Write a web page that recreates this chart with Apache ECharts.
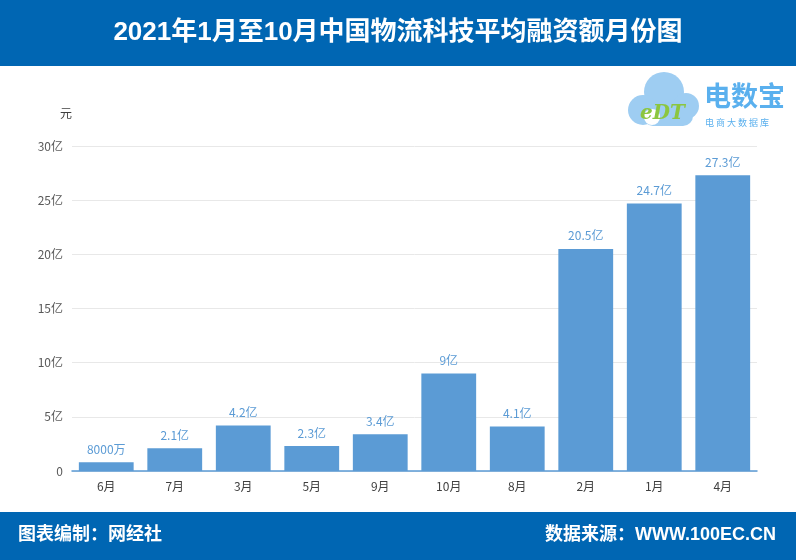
<!DOCTYPE html>
<html><head><meta charset="utf-8">
<script src="https://cdn.jsdelivr.net/npm/echarts@6/dist/echarts.min.js"></script>
<style>html,body{margin:0;padding:0;background:#fff}#c{width:796px;height:560px}</style>
</head><body><div id="c"></div>
<script>
const categories = ['6月','7月','3月','5月','9月','10月','8月','2月','1月','4月'];
const values = [0.8, 2.1, 4.2, 2.3, 3.4, 9, 4.1, 20.5, 24.7, 27.3];
const valueLabels = ['8000万','2.1亿','4.2亿','2.3亿','3.4亿','9亿','4.1亿','20.5亿','24.7亿','27.3亿'];
const yTicks = [0, 5, 10, 15, 20, 25, 30];
const yTickLabels = ['0','5亿','10亿','15亿','20亿','25亿','30亿'];
const titleText = '2021年1月至10月中国物流科技平均融资额月份图';
const footerLeft = '图表编制：网经社';
const footerRight = '数据来源：WWW.100EC.CN';

const chart = echarts.init(document.getElementById('c'));
const font = '"Microsoft YaHei","Noto Sans CJK SC",sans-serif';
const boldFont = '"Liberation Sans","Noto Sans CJK SC",sans-serif';
chart.setOption({
  animation: false,
  backgroundColor: '#fff',
  grid: {left: 72, right: 39, top: 146, bottom: 89},
  xAxis: {
    type: 'category', data: categories,
    axisLine: {lineStyle: {color: '#5b9bd5', width: 1.5}},
    axisTick: {show: false},
    axisLabel: {color: '#404040', fontSize: 12, margin: 9, fontFamily: font}
  },
  yAxis: {
    type: 'value', min: yTicks[0], max: yTicks[yTicks.length-1], interval: 5,
    name: '元', nameGap: 27, nameLocation: 'end',
    nameTextStyle: {color: '#404040', fontSize: 12, align: 'right', fontFamily: font},
    axisLine: {show: false}, axisTick: {show: false},
    splitLine: {lineStyle: {color: '#e8e8e8'}},
    axisLabel: {color: '#595959', fontSize: 12, margin: 9, fontFamily: font,
      formatter: v => yTickLabels[yTicks.indexOf(v)]}
  },
  series: [{
    type: 'bar', data: values, barCategoryGap: '20%',
    itemStyle: {color: '#5b9bd5'},
    label: {show: true, position: 'top', color: '#5b9bd5', fontSize: 12, distance: 7, fontFamily: font,
      formatter: p => valueLabels[p.dataIndex]}
  }],
  graphic: [
    {type: 'rect', shape: {x: 0, y: 0, width: 796, height: 66}, style: {fill: '#0066b3'}},
    {type: 'text', left: 'center', top: 20, style: {text: titleText, fill: '#fff', font: 'bold 26px ' + boldFont}},
    {type: 'rect', shape: {x: 0, y: 512, width: 796, height: 48}, style: {fill: '#0066b3'}},
    {type: 'text', left: 18, top: 526, style: {text: footerLeft, fill: '#fff', font: 'bold 18px ' + boldFont}},
    {type: 'text', right: 20, top: 526, style: {text: footerRight, fill: '#fff', font: 'bold 18px ' + boldFont}},
    // logo cloud
    {type: 'circle', shape: {cx: 664, cy: 92, r: 20}, style: {fill: '#9ecdf2'}},
    {type: 'circle', shape: {cx: 643, cy: 110, r: 15}, style: {fill: '#9ecdf2'}},
    {type: 'circle', shape: {cx: 686, cy: 106, r: 13}, style: {fill: '#9ecdf2'}},
    {type: 'rect', shape: {x: 643, y: 100, width: 50, height: 26, r: 10}, style: {fill: '#9ecdf2'}},
    {type: 'circle', shape: {cx: 652, cy: 117, r: 8}, style: {fill: '#fff'}},
    {type: 'text', x: 640, y: 104, style: {text: 'eDT', fill: '#8cc63f', font: 'bold italic 20px "DejaVu Serif",serif'}},
    {type: 'text', x: 704, y: 82, style: {text: '电数宝', fill: '#5ab0ee', font: 'bold 27px ' + font}},
    {type: 'text', x: 705, y: 118, style: {text: '电 商 大 数 据 库', fill: '#5ab0ee', font: '9px ' + font}}
  ]
});
</script></body></html>
